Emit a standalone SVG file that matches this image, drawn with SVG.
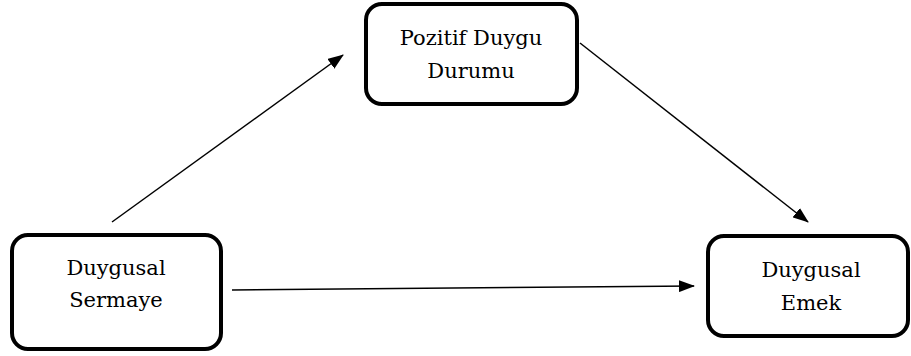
<svg xmlns="http://www.w3.org/2000/svg" width="911" height="356" viewBox="0 0 911 356">
<style>
.box{fill:#fff;stroke:#000;stroke-width:4}
.lbl{font-family:'DejaVu Serif',serif;font-size:21px;fill:#000;text-anchor:middle}
.edge{stroke:#000;stroke-width:1.5;fill:none}
</style>
<defs>
<marker id="ah" viewBox="0 0 16 12" refX="15" refY="6" markerWidth="16" markerHeight="12" markerUnits="userSpaceOnUse" orient="auto">
<path d="M0,0 L16,6 L0,12 Z" fill="#000"/>
</marker>
</defs>
<rect width="911" height="356" fill="#fff"/>
<g id="connectors">
<line class="edge" x1="112" y1="222" x2="343" y2="55" marker-end="url(#ah)"/>
<line class="edge" x1="580" y1="43" x2="808" y2="222" marker-end="url(#ah)"/>
<line class="edge" x1="232" y1="290" x2="694" y2="286" marker-end="url(#ah)"/>
</g>
<g id="sermaye">
<rect class="box" x="12" y="235" width="209" height="114" rx="16"/>
<text class="lbl" x="116" y="275">Duygusal</text>
<text class="lbl" x="116" y="307">Sermaye</text>
</g>
<g id="pozitif">
<rect class="box" x="366" y="4" width="211" height="100" rx="16"/>
<text class="lbl" x="471" y="45">Pozitif Duygu</text>
<text class="lbl" x="471" y="78">Durumu</text>
</g>
<g id="emek">
<rect class="box" x="708" y="236" width="200" height="100" rx="16"/>
<text class="lbl" x="811" y="277">Duygusal</text>
<text class="lbl" x="811" y="310">Emek</text>
</g>
</svg>
